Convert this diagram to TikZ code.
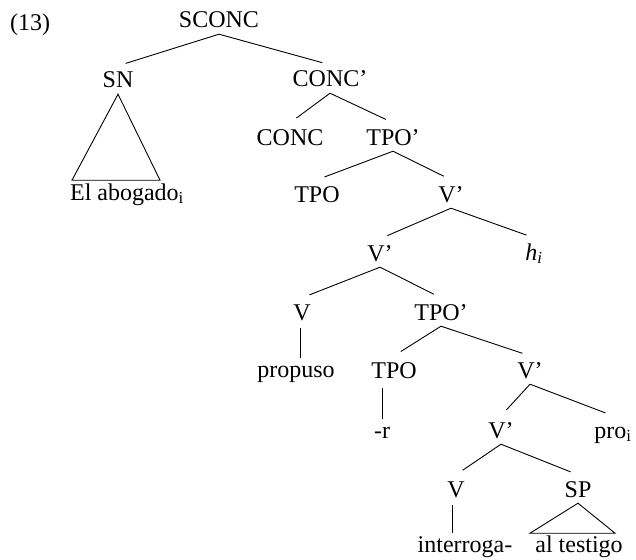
\documentclass[tikz,border=0pt]{standalone}
\usepackage{fontspec}
\setmainfont{Liberation Serif}
\begin{document}
\begin{tikzpicture}[x=1pt,y=-1pt,
  lab/.style={anchor=base,inner xsep=0pt,inner ysep=6pt,text height=16pt,text depth=0pt,font=\fontsize{24}{28}\selectfont},
  edge/.style={line width=0.9pt,shorten >=8pt},
  vline/.style={line width=0.9pt},
  tri/.style={line width=0.9pt,line join=miter}]
\useasboundingbox (0,0) rectangle (636,559);
\node[lab] (n13) at (30,31) {(13)};
\node[lab] (sconc) at (219,28) {SCONC};
\node[lab] (sn) at (118,88) {SN};
\node[lab] (concb) at (330,87) {CONC’};
\node[lab] (conc) at (290,145) {CONC};
\node[lab] (tpob1) at (393,145) {TPO’};
\node[lab] (tpo1) at (317,202) {TPO};
\node[lab] (vb1) at (451,202) {V’};
\node[lab] (vb2) at (380,261) {V’};
\node[lab] (h) at (534,260) {\textit{h}\textsubscript{\textit{i}}};
\node[lab] (v1) at (302,320) {V};
\node[lab] (tpob2) at (441,320) {TPO’};
\node[lab] (propuso) at (296,377) {propuso};
\node[lab] (tpo2) at (394,378) {TPO};
\node[lab] (vb3) at (530,378) {V’};
\node[lab] (r) at (382,438) {-r};
\node[lab] (vb4) at (501,438) {V’};
\node[lab] (pro) at (613,438) {pro\textsubscript{i}};
\node[lab] (v2) at (456,497) {V};
\node[lab] (sp) at (578,497) {SP};
\node[lab] (interroga) at (465,552) {interroga-};
\node[lab] (altestigo) at (579,552) {al testigo};
\node[lab] (abogado) at (127,200) {El abogado\textsubscript{i}};
% edges
\draw[edge] (sconc.south) -- (sn.north);
\draw[edge] (sconc.south) -- (concb.north);
\draw[edge] (concb.south) -- (conc.north);
\draw[edge] (concb.south) -- (tpob1.north);
\draw[edge] (tpob1.south) -- (tpo1.north);
\draw[edge] (tpob1.south) -- (vb1.north);
\draw[edge] (vb1.south) -- (vb2.north);
\draw[edge] (vb1.south) -- (h.north);
\draw[edge] (vb2.south) -- (v1.north);
\draw[edge] (vb2.south) -- (tpob2.north);
\draw[edge] (tpob2.south) -- (tpo2.north);
\draw[edge] (tpob2.south) -- (vb3.north);
\draw[edge] (vb3.south) -- (vb4.north);
\draw[edge] (vb3.south) -- (pro.north);
\draw[edge] (vb4.south) -- (v2.north);
\draw[edge] (vb4.south) -- (sp.north);
% vertical lines
\draw[vline] ([yshift=-2pt]v1.south -| 300,0) -- ([yshift=-3pt]propuso.north -| 300,0);
\draw[vline] ([yshift=-4pt]r.north |- tpo2.south) -- ([yshift=-3pt]r.north);
\draw[vline] ([yshift=-2pt]v2.south -| 452,0) -- ([yshift=-3pt]interroga.north -| 452,0);
% triangles
\draw[tri] (sn.south) -- ++(-46,86) -- ++(88,0) -- cycle;
\draw[tri] (sp.south) -- ++(-48,30) -- ++(85,0) -- cycle;
\end{tikzpicture}
\end{document}
